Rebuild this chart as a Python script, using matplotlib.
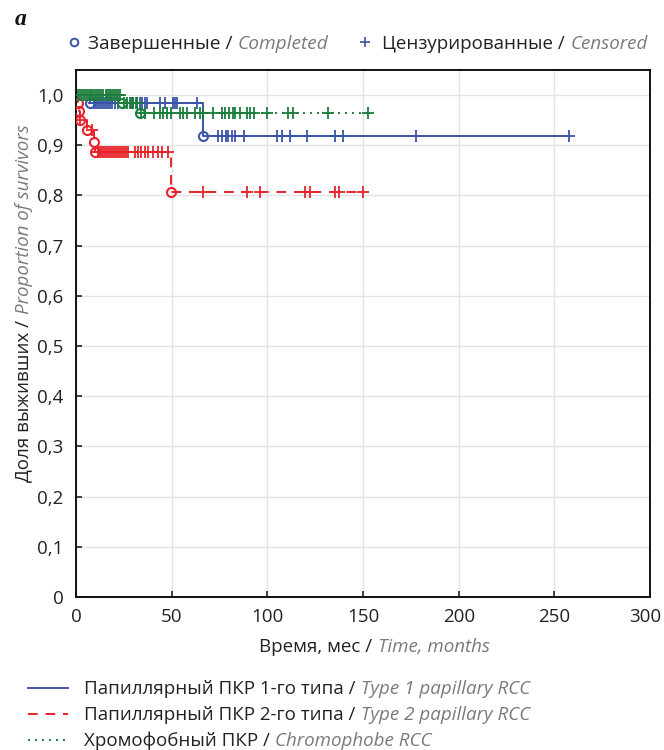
import matplotlib.pyplot as plt
import matplotlib.transforms as mtransforms
import numpy as np

plt.rcParams['font.family'] = ['Open Sans', 'DejaVu Sans']

# ---- data (time in months, survival proportion) ----
blue_event_t = [7.5, 66.4]
blue_event_s = [0.984, 0.918]
blue_cens_t = [9.4, 10.5, 11.5, 12.5, 13.6, 14.6, 15.7, 16.7, 17.8, 18.8, 20.4, 22.0,
               28.7, 29.8, 31.9, 33.5, 34.5, 36.1, 37.1, 43.9, 46.5, 50.7, 51.8, 52.8,
               63.3, 74.4, 76.2, 78.4, 79.6, 81.4, 83.1, 87.8, 104.9, 107.5, 111.9,
               120.8, 135.4, 139.4, 177.7, 257.7]

red_event_t = [1.0, 1.3, 2.1, 5.6, 9.3, 9.7, 49.7]
red_event_s = [0.984, 0.968, 0.950, 0.930, 0.907, 0.887, 0.807]
red_cens_t = [2.1, 8.2, 11.5, 12.5, 13.6, 14.6, 15.7, 16.7, 17.8, 18.8, 19.9, 20.9,
              22.0, 23.0, 24.0, 25.1, 26.1, 27.2, 30.8, 32.4, 34.0, 36.1, 37.6, 40.2,
              42.9, 44.9, 48.1, 66.2, 89.2, 96.2, 119.7, 122.3, 135.4, 137.6, 150.2]

green_event_t = [23.8, 33.5]
green_event_s = [0.984, 0.964]
green_cens_t = [1.0, 2.0, 3.0, 4.0, 5.0, 6.0, 7.5, 8.0, 9.0, 10.0, 11.0, 12.0, 13.0,
                14.0, 15.5, 16.0, 17.0, 18.0, 19.0, 20.0, 21.0, 22.0, 23.0,
                25.0, 26.5, 28.0, 29.0, 30.0, 31.5, 32.0,
                33.8, 35.8, 40.7, 43.8, 45.6, 47.7, 49.4, 54.5, 56.0, 57.9, 62.0,
                65.0, 66.4, 71.5, 76.2, 78.0, 79.7, 81.8, 83.2, 85.5, 89.4, 91.0,
                92.8, 99.7, 111.0, 113.6, 131.9, 152.7]

colors = {"blue": "#3a55a8", "red": "#e8232b", "green": "#1d7d3c"}
styles = {"blue": "-", "red": (0, (5, 4)), "green": (0, (1, 2.6))}
groups = [
    ("blue", blue_event_t, blue_event_s, blue_cens_t),
    ("red", red_event_t, red_event_s, red_cens_t),
    ("green", green_event_t, green_event_s, green_cens_t),
]

fig = plt.figure(figsize=(6.64, 7.5), dpi=100)
ax = fig.add_axes([0.1145, 0.204, 0.8645, 0.7027])

for key, ev_t, ev_s, cens_t in groups:
    c = colors[key]
    t = np.concatenate([[0.0], ev_t])
    s = np.concatenate([[1.0], ev_s])
    t_end = max(max(cens_t), max(ev_t))
    t_line = np.append(t, t_end)
    s_line = np.append(s, s[-1])
    ax.step(t_line, s_line, where='post', color=c, lw=1.4, ls=styles[key], zorder=3)
    # events: open circles at the new level
    ax.plot(ev_t, ev_s, 'o', ms=6.5, mfc='none', mec=c, mew=1.5, zorder=4)
    # censored: crosses on the curve
    ct = np.array(cens_t)
    idx = np.searchsorted(t, ct, side='right') - 1
    ax.plot(ct, s[idx], '+', ms=8, mec=c, mew=1.3, zorder=4)

ax.set_xlim(0, 300)
ax.set_ylim(0, 1.05)
ax.set_xticks(np.arange(0, 301, 50))
ax.set_yticks(np.arange(0, 1.01, 0.1))
ax.set_yticklabels(['0'] + [f"{v:.1f}".replace('.', ',') for v in np.arange(0.1, 1.01, 0.1)])
ax.tick_params(direction='in', length=4, width=1.2, labelsize=13.5, colors='#222222')
ax.tick_params(axis='x', pad=8)
ax.tick_params(axis='y', pad=9)
ax.grid(True, color='#e3e3e3', lw=1.0, zorder=0)
ax.set_axisbelow(True)
for sp in ax.spines.values():
    sp.set_linewidth(1.4)
    sp.set_color('#111111')

# keep the last x tick label inside the figure
last_lbl = ax.get_xticklabels()[-1]
last_lbl.set_transform(last_lbl.get_transform() +
                       mtransforms.ScaledTranslation(-5 / 100, 0, fig.dpi_scale_trans))

FS = 13.5
GREY = '#7a7a7a'


def two_part_h(x, y, ru, en, size=FS):
    t1 = fig.text(x, y, ru, fontsize=size, color='#222222', va='baseline', ha='left')
    ax.annotate(en, xy=(1, y), xycoords=(t1, 'figure fraction'), xytext=(4, 0),
                textcoords='offset points', fontsize=size, color=GREY, style='italic',
                va='baseline', ha='left', annotation_clip=False)
    return t1


# y label (rotated, two styles)
yl = fig.text(0.043, 1 - 482 / 750, 'Доля выживших /', rotation=90, rotation_mode='anchor',
              ha='left', va='baseline', fontsize=FS, color='#222222')
ax.annotate('Proportion of survivors', xy=(0.043, 1), xycoords=('figure fraction', yl),
            xytext=(0, 4), textcoords='offset points', rotation=90, rotation_mode='anchor',
            ha='left', va='baseline', fontsize=FS, color=GREY, style='italic',
            annotation_clip=False)

# x label
two_part_h(259 / 664, 1 - 652 / 750, 'Время, мес /', 'Time, months')

# panel letter
fig.text(0.022, 1 - 25 / 750, 'a', fontsize=17, fontweight='bold', style='italic',
         family='Liberation Serif', color='#111111')

# top legend
fig.add_artist(plt.Line2D([74 / 664], [1 - 42 / 750], marker='o', ms=5.5, mfc='none',
                          mec=colors['blue'], mew=1.4, transform=fig.transFigure))
two_part_h(88 / 664, 1 - 49 / 750, 'Завершенные /', 'Completed', size=13.8)
fig.add_artist(plt.Line2D([365 / 664], [1 - 42 / 750], marker='+', ms=7,
                          mec=colors['blue'], mew=1.2, transform=fig.transFigure))
two_part_h(382 / 664, 1 - 49 / 750, 'Цензурированные /', 'Censored', size=13.5)

# bottom legend
leg_rows = [
    ("blue", 'Папиллярный ПКР 1-го типа /', 'Type 1 papillary RCC', 694),
    ("red", 'Папиллярный ПКР 2-го типа /', 'Type 2 papillary RCC', 720),
    ("green", 'Хромофобный ПКР /', 'Chromophobe RCC', 746),
]
for key, ru, en, ypx in leg_rows:
    yf = 1 - (ypx - 6) / 750
    fig.add_artist(plt.Line2D([28 / 664, 68 / 664], [yf, yf], color=colors[key],
                              lw=1.4, ls=styles[key], transform=fig.transFigure))
    two_part_h(84 / 664, 1 - ypx / 750, ru, en)

fig.savefig('out.png', dpi=100)
